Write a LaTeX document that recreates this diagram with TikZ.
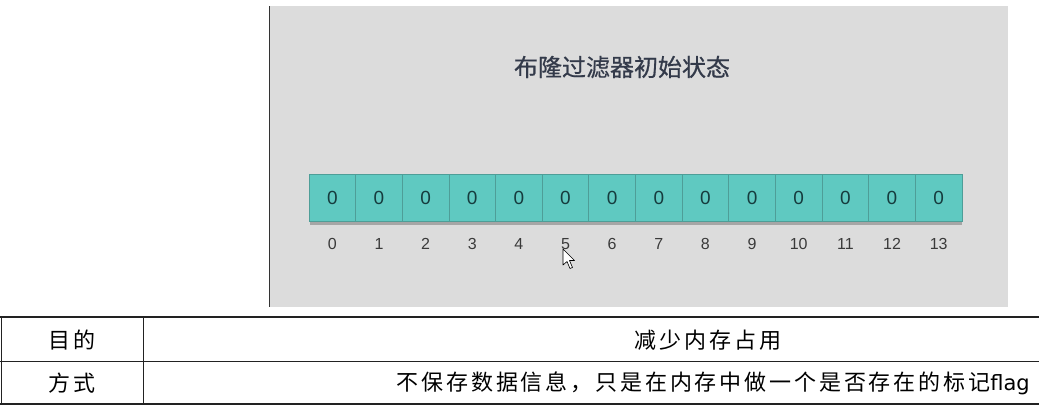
\documentclass[tikz,border=0pt]{standalone}
\usepackage{fontspec}
\setmainfont{Liberation Sans}
\newfontfamily\cjk[FakeBold=0.6]{Noto Sans CJK SC}
\newfontfamily\cjkt[LetterSpace=13]{Noto Sans CJK SC}
\newfontfamily\dejavu{DejaVu Sans}
\definecolor{panelgray}{HTML}{DCDCDC}
\definecolor{cellfill}{HTML}{5FC9C1}
\definecolor{celldraw}{HTML}{4E9E98}
\definecolor{celltext}{HTML}{163C3E}
\definecolor{titlecol}{HTML}{333A4A}
\definecolor{idxcol}{HTML}{3A3A3A}
\definecolor{tablecol}{HTML}{222222}
\tikzset{
  cell/.style={rectangle, draw=celldraw, fill=cellfill, line width=0.8pt,
    minimum width=46.64pt, minimum height=47pt, inner sep=0pt,
    text=celltext, font=\fontsize{19}{21}\selectfont},
  idx/.style={inner sep=0pt, text=idxcol, font=\fontsize{16}{18}\selectfont},
  tabtext/.style={inner sep=0pt, text=black, font=\cjkt\fontsize{22}{26}\selectfont},
  tabline/.style={draw=tablecol, line width=1.3pt}
}
\begin{document}
\begin{tikzpicture}[x=1pt,y=-1pt]
\useasboundingbox (0,0) rectangle (1039,408);
\fill[white] (0,0) rectangle (1039,408);
% panel
\fill[panelgray] (269,6) rectangle (1008,307);
\draw[line width=1.2pt, draw=black!80] (269.5,6) -- (269.5,307);
\node[text=titlecol, inner sep=0pt, font=\cjk\fontsize{24}{28}\selectfont] (title) at (622,67) {布隆过滤器初始状态};
% shadow under cells
\fill[black!35] (310,221) rectangle (962,225);
\foreach \i in {0,...,13}{
  \node[cell] (c\i) at ({332.32+46.64*\i},197.5) {0};
  \node[idx] (l\i) at ({332.32+46.64*\i},244) {\i};
}
% cursor
\draw[fill=white, draw=black, line width=0.6pt, line join=round]
  (563,249) -- (563,265) -- (567,261.5) -- (570,268.5) -- (572.5,267.5) -- (569.5,260.5) -- (574.5,260.5) -- cycle;
% table
\draw[tabline] (0,317) -- (1039,317);
\draw[tabline] (0,361.5) -- (1039,361.5);
\draw[tabline] (0,404) -- (1039,404);
\draw[tabline] (1.5,317) -- (1.5,404);
\draw[tabline] (143.5,317) -- (143.5,404);
\node[tabtext] (r1a) at (72,340) {目的};
\node[tabtext] (r1b) at (708,340) {减少内存占用};
\node[tabtext] (r2a) at (72,383) {方式};
\node[inner sep=0pt, anchor=east, text=black] (r2b) at (1030,383)
  {{\cjkt\fontsize{22}{26}\selectfont 不保存数据信息，只是在内存中做一个是否存在的标记}{\dejavu\fontsize{21}{26}\selectfont flag}};
\end{tikzpicture}
\end{document}
